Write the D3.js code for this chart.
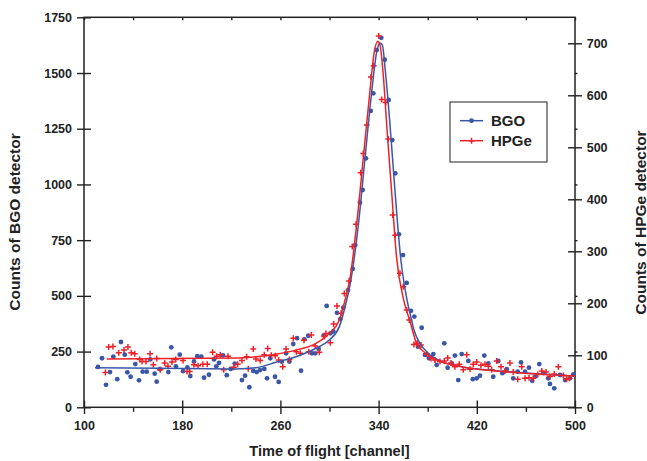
<!DOCTYPE html>
<html>
<head>
<meta charset="utf-8">
<script src="https://cdn.jsdelivr.net/npm/d3@7"></script>
<style>
  body { margin: 0; background: #fff; }
  text { font-family: "Liberation Sans", Arial, sans-serif; font-weight: bold; fill: #222; }
</style>
</head>
<body>
<div id="chart"></div>
<script>
// BGO detector points (left axis)
var bgoChannel = [111.4,114.7,117.9,121.2,123.9,127.1,130.1,133.2,135.3,138.0,141.8,144.8,147.8,151.1,154.0,157.6,159.2,161.7,168.7,171.1,
  174.9,178.0,180.7,184.2,186.6,189.6,192.3,195.6,197.8,201.8,205.9,207.8,210.0,213.2,216.3,219.5,222.8,228.7,231.2,234.7,
  237.9,240.7,243.4,246.9,249.1,251.8,255.6,258.6,261.1,264.6,267.3,270.5,273.5,276.8,279.5,282.7,285.7,288.4,291.2,295.3,
  297.7,300.7,303.1,306.1,308.8,311.2,315.1,318.9,321.0,324.8,327.0,329.7,333.6,335.7,338.5,342.2,345.0,348.2,351.2,353.6,
  356.6,359.9,362.9,366.4,369.1,372.1,375.1,377.8,381.1,384.6,387.3,393.5,396.3,399.6,402.2,404.9,407.7,413.1,416.7,419.9,
  422.6,426.1,429.4,433.4,437.5,440.8,444.4,449.7,453.3,456.0,459.3,462.5,465.2,468.0,470.9,474.2,478.2,479.6,483.1,487.8,
  491.9,495.9,498.6];
var bgoCounts = [181,220,101,158,227,126,293,236,157,137,194,121,160,160,215,151,115,171,158,269,
  184,236,162,179,140,206,229,227,133,146,215,184,199,233,144,172,196,122,142,90,
  163,158,167,172,130,220,137,114,205,242,205,284,310,164,305,321,242,242,262,323,
  455,332,341,424,396,447,526,621,728,918,975,1117,1330,1409,1603,1658,1560,1379,1199,1050,
  776,683,558,433,407,272,357,235,220,239,190,287,178,197,232,122,239,208,126,130,
  142,232,197,137,208,153,171,130,160,202,160,178,119,140,194,153,130,105,85,145,
  122,130,148];

// HPGe detector points (right axis)
var hpgeChannel = [117.4,120.1,123.6,128.3,132.6,135.8,138.5,141.3,145.4,147.3,150.5,153.8,156.5,159.2,162.2,165.7,168.4,171.7,174.7,180.7,
  183.9,186.1,189.6,192.9,196.9,200.4,204.8,208.1,211.0,213.8,217.3,222.0,225.2,228.7,232.5,233.8,237.9,240.1,243.6,246.9,
  249.7,252.6,255.8,258.6,261.9,264.6,267.3,270.5,273.0,276.2,279.2,283.1,285.2,288.4,291.7,295.8,297.1,300.7,303.4,306.1,
  309.4,312.1,315.9,318.6,321.6,325.4,327.5,330.3,333.8,336.0,340.1,342.5,345.8,347.9,351.5,353.6,357.4,360.1,362.9,365.0,
  368.8,371.5,374.5,379.2,382.7,385.9,390.0,393.5,396.3,399.0,402.2,405.7,409.0,411.8,414.5,417.1,419.9,423.4,426.7,429.4,
  432.1,436.2,439.7,443.0,447.0,449.7,453.3,456.6,459.3,462.5,466.0,469.6,472.9,476.4,479.6,483.1,486.4,490.5,493.2,495.4];
var hpgeCounts = [67,116,117,105,110,116,105,103,92,88,88,103,82,94,72,85,79,87,92,90,
  69,69,82,80,83,83,106,98,101,72,98,77,83,90,97,74,112,93,90,101,
  113,100,99,91,78,112,92,133,107,104,129,107,139,118,106,136,142,124,160,195,
  181,219,243,309,352,451,488,543,635,657,714,592,586,516,370,331,258,232,187,168,
  121,123,120,102,94,91,88,89,95,85,78,83,72,101,73,83,87,81,83,79,
  72,89,78,70,85,68,54,78,56,57,56,63,70,68,59,64,78,61,54,56];

// fitted curves
var bgoFitChannel = [109.0,161.9,223.8,240.1,256.4,272.7,289.0,299.8,308.0,313.4,316.7,323.5,328.9,334.4,338.5,341.1,343.0,345.8,349.3,353.4,
  358.0,362.9,365.6,368.8,373.7,380.5,391.4,407.7,434.8,461.9,500];
var bgoFitCounts = [177,175,172,177,202,227,265,302,362,467,549,818,1117,1416,1596,1635,1626,1491,1267,967,
  669,489,420,347,287,242,205,182,164,153,140];
var hpgeFitChannel = [118.5,227.1,240.1,256.4,272.7,289.0,299.8,308.0,313.4,316.7,322.1,327.5,332.9,336.5,339.3,341.1,343.8,346.6,350.6,354.7,
  360.1,365.6,371.0,377.8,388.6,407.7,434.8,461.9,500];
var hpgeFitCounts = [93,95,97,102,110,123,142,168,213,248,351,479,607,684,704,697,639,543,415,287,
  210,165,123,105,90,78,70,65,60];

var xTicks = [100,180,260,340,420,500];
var xMinor = [140,220,300,380,460];
var xTop = [100,140,180,220,260,300,340,380,420,460,500];
var leftTicks = [0,250,500,750,1000,1250,1500,1750];
var rightTicks = [0,100,200,300,400,500,600,700];
var seriesNames = ["BGO", "HPGe"];

var blue = "#3a57a7", red = "#ef2128", axisColor = "#222";

var margin = {top: 17.3, right: 72, bottom: 53.7, left: 84},
    width = 647 - margin.left - margin.right,
    height = 461 - margin.top - margin.bottom;

var svg = d3.select("#chart")
  .append("svg")
    .attr("width", 647)
    .attr("height", 461)
  .append("g")
    .attr("transform", "translate(" + margin.left + "," + margin.top + ")");

var x = d3.scaleLinear().domain([100, 500]).range([0, width]);
var yL = d3.scaleLinear().domain([0, 1750]).range([height, 0]);
var yR = d3.scaleLinear().domain([0, 750]).range([height, 0]);

// bottom axis, major ticks cross the line
var gx = svg.append("g")
  .attr("transform", "translate(0," + height + ")")
  .call(d3.axisBottom(x).tickValues(xTicks).tickSize(6.7).tickPadding(6.7).tickFormat(d3.format("d")));
gx.selectAll(".tick line").attr("y1", -6.7);
svg.append("g")
  .attr("transform", "translate(0," + height + ")")
  .call(d3.axisBottom(x).tickValues(xMinor).tickSize(4.5).tickFormat(""));
svg.append("g")
  .call(d3.axisTop(x).tickValues(xTop).tickSize(-3).tickFormat(""));

// left axis
var gl = svg.append("g")
  .call(d3.axisLeft(yL).tickValues(leftTicks).tickSize(7).tickPadding(5).tickFormat(d3.format("d")));
gl.selectAll(".tick line").attr("x1", 7);

// right axis
var gr = svg.append("g")
  .attr("transform", "translate(" + width + ",0)")
  .call(d3.axisRight(yR).tickValues(rightTicks).tickSize(7).tickPadding(4.7).tickFormat(d3.format("d")));
gr.selectAll(".tick line").attr("x1", -7);
svg.append("g")
  .attr("transform", "translate(" + width + ",0)")
  .call(d3.axisRight(yL).tickValues(leftTicks.slice(1, -1)).tickSize(2.5).tickFormat(""));

svg.selectAll(".domain").remove();
svg.selectAll(".tick line").attr("stroke", axisColor).attr("stroke-width", 1.4);
svg.selectAll(".tick text")
  .style("font-size", "12.5px")
  .style("font-family", "'Liberation Sans', Arial, sans-serif")
  .style("font-weight", "bold")
  .attr("fill", axisColor);

svg.append("rect")
  .attr("width", width)
  .attr("height", height)
  .attr("fill", "none")
  .attr("stroke", axisColor)
  .attr("stroke-width", 1.5);

// points
svg.append("g")
  .selectAll("circle")
  .data(d3.range(bgoChannel.length))
  .enter()
  .append("circle")
    .attr("cx", function(i) { return x(bgoChannel[i]); })
    .attr("cy", function(i) { return yL(bgoCounts[i]); })
    .attr("r", 2.4)
    .attr("fill", blue);

svg.append("g")
  .selectAll("path")
  .data(d3.range(hpgeChannel.length))
  .enter()
  .append("path")
    .attr("d", "M-3,0H3M0,-3V3")
    .attr("transform", function(i) { return "translate(" + x(hpgeChannel[i]) + "," + yR(hpgeCounts[i]) + ")"; })
    .attr("stroke", red)
    .attr("stroke-width", 1.5)
    .attr("fill", "none");

// fits
var lineL = d3.line()
  .x(function(i) { return x(bgoFitChannel[i]); })
  .y(function(i) { return yL(bgoFitCounts[i]); })
  .curve(d3.curveMonotoneX);
var lineR = d3.line()
  .x(function(i) { return x(hpgeFitChannel[i]); })
  .y(function(i) { return yR(hpgeFitCounts[i]); })
  .curve(d3.curveMonotoneX);

svg.append("path")
  .attr("d", lineL(d3.range(bgoFitChannel.length)))
  .attr("fill", "none").attr("stroke", blue).attr("stroke-width", 1.5);
svg.append("path")
  .attr("d", lineR(d3.range(hpgeFitChannel.length)))
  .attr("fill", "none").attr("stroke", red).attr("stroke-width", 1.5);

// legend
var legend = svg.append("g").attr("transform", "translate(" + (450 - margin.left) + "," + (102 - margin.top) + ")");
legend.append("rect")
  .attr("width", 97).attr("height", 60)
  .attr("fill", "#fff").attr("stroke", axisColor).attr("stroke-width", 1);
[blue, red].forEach(function(c, k) {
  var yy = 18.7 + k * 20;
  legend.append("line")
    .attr("x1", 10).attr("x2", 33).attr("y1", yy).attr("y2", yy)
    .attr("stroke", c).attr("stroke-width", 1.5);
  if (k === 0) {
    legend.append("circle").attr("cx", 21.5).attr("cy", yy).attr("r", 2.4).attr("fill", c);
  } else {
    legend.append("path").attr("d", "M18.5," + yy + "H24.5M21.5," + (yy - 3) + "V" + (yy + 3))
      .attr("stroke", c).attr("stroke-width", 1.5);
  }
  legend.append("text")
    .attr("x", 41).attr("y", yy + 5.5)
    .style("font-size", "15px")
    .text(seriesNames[k]);
});

// axis titles
svg.append("text")
  .attr("x", width / 2)
  .attr("y", 456 - margin.top)
  .attr("text-anchor", "middle")
  .style("font-size", "14.6px")
  .text("Time of flight [channel]");

svg.append("text")
  .attr("transform", "rotate(-90)")
  .attr("x", -(222 - margin.top))
  .attr("y", 20 - margin.left)
  .attr("text-anchor", "middle")
  .style("font-size", "15.5px")
  .text("Counts of BGO detector");

svg.append("text")
  .attr("transform", "rotate(-90)")
  .attr("x", -(222.5 - margin.top))
  .attr("y", 645.5 - margin.left)
  .attr("text-anchor", "middle")
  .style("font-size", "15.5px")
  .text("Counts of HPGe detector");
</script>
</body>
</html>
